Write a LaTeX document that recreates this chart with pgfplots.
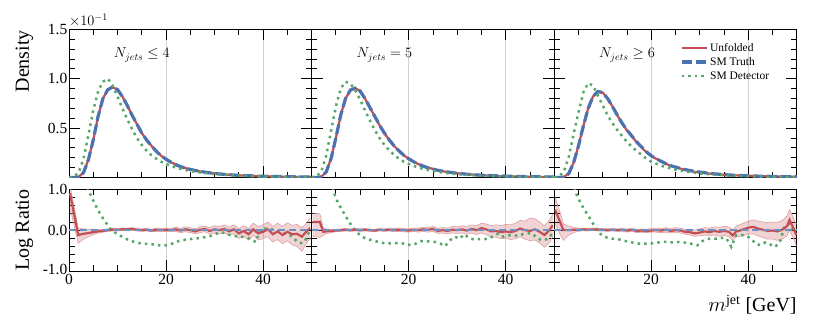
\documentclass[border=0pt]{standalone}
\usepackage{fontspec}
\setmainfont{Liberation Serif}
\usepackage{pgfplots}
\pgfplotsset{compat=1.18}
\usepackage{pgfplotstable}

\definecolor{cred}{HTML}{C44E52}
\definecolor{cblue}{HTML}{4C72B0}
\definecolor{cgreen}{HTML}{55A868}

% density, columns: x unfolded truth detector
\pgfplotstableread{
x u t d
0 0 0 0
1 0 0 0.01
2 0.005 0.005 0.05
3 0.052 0.05 0.19
4 0.182 0.18 0.43
5 0.38 0.38 0.68
6 0.62 0.62 0.87
7 0.80 0.80 0.97
8 0.89 0.89 1.0
9 0.912 0.915 0.93
10 0.89 0.89 0.82
11 0.82 0.82 0.70
12 0.73 0.73 0.59
13 0.632 0.63 0.49
14 0.54 0.54 0.40
15 0.45 0.45 0.33
16 0.38 0.38 0.27
17 0.32 0.32 0.225
18 0.265 0.265 0.19
19 0.22 0.22 0.16
20 0.185 0.185 0.138
21 0.155 0.155 0.118
22 0.131 0.13 0.10
23 0.11 0.11 0.087
24 0.096 0.095 0.076
25 0.082 0.082 0.067
26 0.070 0.071 0.058
27 0.062 0.062 0.051
28 0.055 0.054 0.045
29 0.046 0.047 0.040
30 0.041 0.041 0.035
31 0.036 0.036 0.031
32 0.033 0.032 0.028
33 0.027 0.028 0.025
34 0.025 0.025 0.022
35 0.020 0.022 0.019
36 0.020 0.020 0.017
37 0.016 0.018 0.015
38 0.016 0.016 0.013
39 0.013 0.014 0.012
40 0.012 0.013 0.011
41 0.012 0.012 0.010
42 0.010 0.011 0.009
43 0.010 0.010 0.008
44 0.008 0.009 0.0075
45 0.008 0.008 0.007
46 0.0065 0.007 0.0065
47 0.006 0.0065 0.006
48 0.005 0.006 0.0055
49 0.0055 0.0055 0.005
50 0.005 0.005 0.005
}\topA

\pgfplotstableread{
x u t d
0 0 0 0
1 0 0 0.012
2 0.007 0.006 0.06
3 0.055 0.055 0.22
4 0.19 0.19 0.47
5 0.40 0.40 0.72
6 0.63 0.63 0.90
7 0.80 0.80 0.97
8 0.885 0.885 0.95
9 0.905 0.905 0.88
10 0.875 0.875 0.79
11 0.80 0.80 0.68
12 0.71 0.71 0.58
13 0.62 0.62 0.48
14 0.53 0.53 0.40
15 0.45 0.45 0.33
16 0.38 0.38 0.275
17 0.32 0.32 0.23
18 0.27 0.27 0.19
19 0.225 0.225 0.16
20 0.19 0.19 0.138
21 0.16 0.16 0.118
22 0.135 0.135 0.10
23 0.117 0.115 0.087
24 0.099 0.098 0.076
25 0.087 0.085 0.066
26 0.072 0.073 0.057
27 0.064 0.064 0.050
28 0.055 0.056 0.044
29 0.049 0.049 0.039
30 0.043 0.043 0.034
31 0.039 0.038 0.030
32 0.033 0.033 0.027
33 0.030 0.029 0.024
34 0.026 0.026 0.021
35 0.024 0.023 0.019
36 0.021 0.021 0.017
37 0.018 0.019 0.015
38 0.017 0.017 0.013
39 0.014 0.015 0.012
40 0.014 0.014 0.011
41 0.011 0.012 0.010
42 0.011 0.011 0.009
43 0.010 0.010 0.008
44 0.009 0.009 0.0075
45 0.008 0.008 0.007
46 0.0075 0.0075 0.0065
47 0.0068 0.007 0.006
48 0.0058 0.0065 0.0055
49 0.006 0.006 0.005
50 0.0062 0.0055 0.005
}\topB

\pgfplotstableread{
x u t d
0 0 0 0
1 0 0 0.012
2 0.005 0.004 0.06
3 0.042 0.04 0.21
4 0.15 0.15 0.44
5 0.32 0.32 0.66
6 0.52 0.52 0.86
7 0.70 0.70 0.955
8 0.82 0.82 0.93
9 0.87 0.87 0.83
10 0.86 0.86 0.73
11 0.80 0.80 0.63
12 0.72 0.72 0.55
13 0.63 0.63 0.48
14 0.55 0.55 0.42
15 0.475 0.48 0.36
16 0.42 0.42 0.31
17 0.355 0.36 0.27
18 0.305 0.31 0.23
19 0.255 0.26 0.19
20 0.218 0.22 0.16
21 0.19 0.19 0.14
22 0.164 0.165 0.12
23 0.14 0.14 0.105
24 0.118 0.12 0.092
25 0.105 0.105 0.08
26 0.091 0.092 0.07
27 0.077 0.08 0.062
28 0.066 0.07 0.055
29 0.057 0.062 0.048
30 0.052 0.055 0.042
31 0.047 0.048 0.037
32 0.040 0.042 0.033
33 0.036 0.037 0.029
34 0.032 0.033 0.026
35 0.028 0.029 0.023
36 0.025 0.026 0.020
37 0.022 0.023 0.018
38 0.021 0.021 0.016
39 0.019 0.019 0.014
40 0.018 0.017 0.013
41 0.016 0.015 0.012
42 0.014 0.014 0.011
43 0.013 0.013 0.010
44 0.012 0.012 0.009
45 0.011 0.011 0.008
46 0.010 0.010 0.0075
47 0.009 0.009 0.007
48 0.0095 0.0085 0.0065
49 0.008 0.008 0.006
50 0.007 0.0075 0.0055
}\topC

% log ratio of unfolded with its band
\pgfplotstableread{
x u lo hi
0.2 0.90 0.55 1.10
1.9 -0.12 -0.32 0.05
3 -0.09 -0.22 0.03
4 -0.07 -0.16 0.02
5 -0.05 -0.11 0.01
6 -0.03 -0.07 0.01
7 -0.02 -0.05 0.02
8 0.00 -0.03 0.03
9 0.01 -0.02 0.04
10 0.01 -0.02 0.04
11 0.02 -0.01 0.05
12 0.02 -0.01 0.05
13 0.03 0.00 0.06
14 0.01 -0.02 0.04
15 0.00 -0.03 0.03
16 0.01 -0.02 0.04
17 -0.01 -0.04 0.02
18 0.01 -0.03 0.05
19 0.00 -0.04 0.04
20 0.01 -0.03 0.05
21 0.00 -0.04 0.04
22 0.02 -0.03 0.07
23 -0.01 -0.06 0.04
24 0.02 -0.04 0.08
25 0.00 -0.06 0.06
26 -0.03 -0.09 0.03
27 0.01 -0.06 0.08
28 0.03 -0.04 0.10
29 -0.02 -0.10 0.06
30 0.02 -0.07 0.11
31 0.00 -0.09 0.09
32 0.03 -0.07 0.13
33 -0.03 -0.13 0.07
34 0.02 -0.09 0.13
35 -0.08 -0.20 0.04
36 -0.02 -0.15 0.11
37 -0.10 -0.24 0.04
38 0.02 -0.13 0.17
39 -0.08 -0.24 0.08
40 -0.04 -0.21 0.13
41 0.02 -0.16 0.20
42 -0.10 -0.29 0.09
43 -0.03 -0.23 0.17
44 -0.12 -0.33 0.09
45 -0.04 -0.26 0.18
46 -0.10 -0.36 0.12
47 -0.09 -0.40 0.14
48 -0.16 -0.52 0.06
48.8 -0.05 -0.35 0.15
49.7 0.05 -0.20 0.30
}\ratA

\pgfplotstableread{
x u lo hi
0.2 0.20 -0.15 0.42
1.7 0.20 -0.18 0.40
2.4 -0.04 -0.12 0.05
3 -0.03 -0.09 0.03
4 -0.02 -0.06 0.02
5 -0.01 -0.04 0.02
6 0.00 -0.03 0.03
7 0.01 -0.02 0.04
8 0.00 -0.03 0.03
9 0.01 -0.02 0.04
10 0.00 -0.03 0.03
11 0.01 -0.02 0.04
12 0.00 -0.03 0.03
13 -0.01 -0.04 0.02
14 0.01 -0.02 0.04
15 0.00 -0.03 0.03
16 0.01 -0.02 0.05
17 0.00 -0.04 0.04
18 0.01 -0.03 0.05
19 0.00 -0.04 0.04
20 -0.01 -0.05 0.03
21 0.01 -0.03 0.05
22 0.00 -0.05 0.05
23 0.02 -0.03 0.07
24 0.01 -0.05 0.07
25 0.03 -0.03 0.09
26 -0.02 -0.08 0.04
27 0.00 -0.07 0.07
28 -0.02 -0.09 0.05
29 0.01 -0.07 0.09
30 0.00 -0.08 0.08
31 0.02 -0.07 0.11
32 -0.01 -0.10 0.08
33 0.03 -0.07 0.13
34 0.00 -0.11 0.11
35 0.05 -0.07 0.17
36 0.02 -0.11 0.15
37 -0.03 -0.17 0.11
38 -0.02 -0.17 0.13
39 -0.05 -0.21 0.11
40 -0.03 -0.20 0.14
41 -0.05 -0.23 0.13
42 -0.02 -0.21 0.17
43 0.04 -0.16 0.24
44 0.00 -0.22 0.22
45 -0.02 -0.26 0.30
46 0.02 -0.24 0.28
47 -0.04 -0.32 0.20
48 -0.12 -0.42 0.10
49 0.00 -0.30 0.25
49.7 0.12 -0.15 0.38
}\ratB

\pgfplotstableread{
x u lo hi
0.2 0.50 0.15 0.80
1.2 0.20 -0.10 0.45
1.9 0.00 -0.25 0.15
3 0.00 -0.12 0.10
4 0.01 -0.06 0.07
5 0.01 -0.03 0.05
6 0.02 -0.01 0.05
7 0.01 -0.02 0.04
8 0.02 -0.01 0.05
9 0.01 -0.02 0.04
10 0.01 -0.02 0.04
11 0.00 -0.03 0.03
12 0.01 -0.02 0.04
13 0.00 -0.03 0.03
14 0.01 -0.03 0.04
15 -0.01 -0.05 0.03
16 0.01 -0.03 0.04
17 -0.02 -0.06 0.02
18 -0.01 -0.05 0.03
19 -0.02 -0.06 0.02
20 -0.01 -0.05 0.04
21 0.00 -0.05 0.05
22 -0.01 -0.06 0.04
23 0.01 -0.05 0.06
24 -0.02 -0.07 0.04
25 0.00 -0.06 0.06
26 -0.01 -0.07 0.05
27 -0.04 -0.10 0.02
28 -0.05 -0.12 0.02
29 -0.08 -0.15 0.00
30 -0.06 -0.14 0.03
31 -0.03 -0.12 0.06
32 -0.05 -0.14 0.05
33 -0.02 -0.12 0.08
34 -0.04 -0.15 0.07
35 -0.02 -0.13 0.09
36 -0.04 -0.16 0.08
36.8 -0.13 -0.26 0.00
37.5 -0.03 -0.16 0.10
38 -0.02 -0.16 0.12
39 0.02 -0.13 0.17
40 0.06 -0.10 0.22
41 0.08 -0.09 0.25
42 0.04 -0.14 0.22
43 0.01 -0.18 0.20
44 -0.02 -0.22 0.18
45 -0.01 -0.22 0.20
46 -0.03 -0.25 0.19
47 0.01 -0.22 0.24
48 0.10 -0.14 0.35
48.5 0.25 0.00 0.50
49.3 0.05 -0.20 0.30
49.9 -0.12 -0.38 0.15
}\ratC

% log ratio of detector level, one column per panel
\pgfplotstableread{
x a b c
0.5 3 3 3
1.5 3 3 3
2.5 1.5 2.5 2.2
3.5 1.15 1.6 1.3
4.5 0.85 0.95 0.9
5.5 0.60 0.65 0.65
6.5 0.38 0.45 0.45
7.5 0.20 0.25 0.26
8.5 0.03 0.06 0.06
9.5 -0.06 -0.07 -0.09
10.5 -0.13 -0.17 -0.17
11.5 -0.20 -0.22 -0.20
12.5 -0.25 -0.25 -0.22
13.5 -0.29 -0.28 -0.23
14.5 -0.32 -0.31 -0.26
15.5 -0.33 -0.33 -0.29
16.5 -0.34 -0.32 -0.31
17.5 -0.35 -0.32 -0.33
18.5 -0.37 -0.32 -0.33
19.5 -0.38 -0.34 -0.33
20.5 -0.36 -0.37 -0.32
21.5 -0.32 -0.33 -0.30
22.5 -0.27 -0.27 -0.29
23.5 -0.24 -0.27 -0.29
24.5 -0.23 -0.28 -0.30
25.5 -0.21 -0.29 -0.29
26.5 -0.20 -0.33 -0.30
27.5 -0.18 -0.39 -0.31
28.5 -0.17 -0.25 -0.34
29.5 -0.13 -0.16 -0.37
30.5 -0.08 -0.21 -0.27
31.5 -0.05 -0.10 -0.22
32.5 -0.10 -0.20 -0.20
33.5 -0.13 -0.23 -0.21
34.5 -0.15 -0.22 -0.19
35.5 -0.16 -0.22 -0.20
36.5 -0.18 -0.21 -0.41
37.5 -0.22 -0.14 -0.13
38.5 -0.29 -0.08 -0.12
39.5 0.02 -0.16 -0.13
40.5 0.04 -0.13 -0.20
41.5 0.03 -0.12 -0.33
42.5 0.00 -0.14 -0.37
43.5 -0.04 -0.10 -0.30
44.5 -0.08 -0.08 -0.35
45.5 -0.12 -0.08 -0.41
46.5 -0.22 -0.20 -0.30
47.5 -0.32 -0.25 0.10
48.5 -0.30 -0.22 0.16
49.5 -0.04 -0.10 -0.04
}\ratDet

\pgfplotsset{
  panel/.style={
    scale only axis, width=242.6pt, xmin=0, xmax=50,
    anchor=south west, tick align=inside,
    major tick length=11pt, minor tick length=5.5pt,
    tick style={black, line width=0.8pt},
    axis line style={line width=0.8pt},
    xtick={0,20,40}, minor xtick={5,10,15,25,30,35,45},
    xmajorgrids, major grid style={gray!35, line width=0.9pt},
    tick label style={font=\fontsize{15.5}{16}\selectfont},
    yticklabel style={inner sep=1.5pt},
    xticklabel style={inner sep=2.5pt},
  },
  toppanel/.style={panel, height=148.2pt, ymin=0, ymax=1.5,
    ytick={0,0.5,1,1.5},
    minor ytick={0.1,0.2,0.3,0.4,0.6,0.7,0.8,0.9,1.1,1.2,1.3,1.4},
    xticklabels={}, yticklabels={}},
  ratiopanel/.style={panel, height=81.7pt, ymin=-1, ymax=1,
    ytick={-1,0,1}, minor ytick={-0.8,-0.6,-0.4,-0.2,0.2,0.4,0.6,0.8},
    xticklabels={,20,40}, yticklabels={}},
  unf/.style={cred, line width=2.2pt},
  tru/.style={cblue, line width=3.2pt, dash pattern=on 10pt off 4pt},
  det/.style={cgreen, line width=2.5pt, dash pattern=on 2.5pt off 4.1pt},
  bandedge/.style={cred!55, line width=0.6pt},
  trr/.style={cblue!80, line width=1.8pt, dash pattern=on 7pt off 4pt},
}
\tikzset{njets/.style={font=\fontsize{14}{16}\selectfont}}

\begin{document}
\begin{tikzpicture}
\path[use as bounding box] (0,0) rectangle (830pt,332pt);

% ---- density panels ----
\begin{axis}[toppanel, at={(69pt,154.5pt)}, yticklabels={,0.5,1.0,1.5}]
\addplot[unf] table[x=x, y=u] {\topA};
\addplot[tru] table[x=x, y=t] {\topA};
\addplot[det] table[x=x, y=d] {\topA};
\node[njets] at (axis cs:15,1.24) {$N_{jets} \leq 4$};
\end{axis}

\begin{axis}[toppanel, at={(311.6pt,154.5pt)}]
\addplot[unf] table[x=x, y=u] {\topB};
\addplot[tru] table[x=x, y=t] {\topB};
\addplot[det] table[x=x, y=d] {\topB};
\node[njets] at (axis cs:15,1.24) {$N_{jets} = 5$};
\end{axis}

\begin{axis}[toppanel, at={(554.2pt,154.5pt)},
  legend style={at={(0.505,0.935)}, anchor=north west, draw=none, fill=none,
    font=\fontsize{11.5}{13}\selectfont, row sep=0.6pt},
  legend cell align=left,
  legend image code/.code={\draw[#1] (0pt,0pt) -- (25pt,0pt);}]
\addplot[unf] table[x=x, y=u] {\topC};
\addlegendentry{Unfolded}
\addplot[tru] table[x=x, y=t] {\topC};
\addlegendentry{SM Truth}
\addplot[det] table[x=x, y=d] {\topC};
\addlegendentry{SM Detector}
\node[njets] at (axis cs:15,1.24) {$N_{jets} \geq 6$};
\end{axis}

% ---- ratio panels ----
\begin{axis}[ratiopanel, at={(69pt,61pt)}, yticklabels={\raisebox{3pt}{-1.0},0.0,1.0}, xticklabels={0,20,40}]
\addplot[draw=none, stack plots=y, forget plot] table[x=x, y=lo] {\ratA};
\addplot[draw=none, fill=cred, fill opacity=0.25, stack plots=y] table[x=x, y expr=\thisrow{hi}-\thisrow{lo}] {\ratA} \closedcycle;
\addplot[bandedge] table[x=x, y=hi] {\ratA};
\addplot[bandedge] table[x=x, y=lo] {\ratA};
\addplot[det] table[x=x, y=a] {\ratDet};
\addplot[unf] table[x=x, y=u] {\ratA};
\addplot[trr] coordinates {(0,0) (50,0)};
\end{axis}

\begin{axis}[ratiopanel, at={(311.6pt,61pt)}]
\addplot[draw=none, stack plots=y, forget plot] table[x=x, y=lo] {\ratB};
\addplot[draw=none, fill=cred, fill opacity=0.25, stack plots=y] table[x=x, y expr=\thisrow{hi}-\thisrow{lo}] {\ratB} \closedcycle;
\addplot[bandedge] table[x=x, y=hi] {\ratB};
\addplot[bandedge] table[x=x, y=lo] {\ratB};
\addplot[det] table[x=x, y=b] {\ratDet};
\addplot[unf] table[x=x, y=u] {\ratB};
\addplot[trr] coordinates {(0,0) (50,0)};
\end{axis}

\begin{axis}[ratiopanel, at={(554.2pt,61pt)}]
\addplot[draw=none, stack plots=y, forget plot] table[x=x, y=lo] {\ratC};
\addplot[draw=none, fill=cred, fill opacity=0.25, stack plots=y] table[x=x, y expr=\thisrow{hi}-\thisrow{lo}] {\ratC} \closedcycle;
\addplot[bandedge] table[x=x, y=hi] {\ratC};
\addplot[bandedge] table[x=x, y=lo] {\ratC};
\addplot[det] table[x=x, y=c] {\ratDet};
\addplot[unf] table[x=x, y=u] {\ratC};
\addplot[trr] coordinates {(0,0) (50,0)};
\end{axis}

% ---- labels ----
\node[rotate=90, anchor=south east, inner sep=0pt, font=\fontsize{20}{22}\selectfont] at (33.5pt,302pt) {Density};
\node[rotate=90, anchor=south, inner sep=0pt, font=\fontsize{20}{22}\selectfont] at (33.5pt,102pt) {Log Ratio};
\node[anchor=base west, inner sep=0pt, font=\fontsize{14}{16}\selectfont] at (69pt,306pt) {$\times 10^{-1}$};
\node[anchor=base east, inner sep=0pt, font=\fontsize{20}{22}\selectfont] at (796.8pt,20.3pt) {$m^{\mathrm{jet}}$ [GeV]};
\end{tikzpicture}
\end{document}
